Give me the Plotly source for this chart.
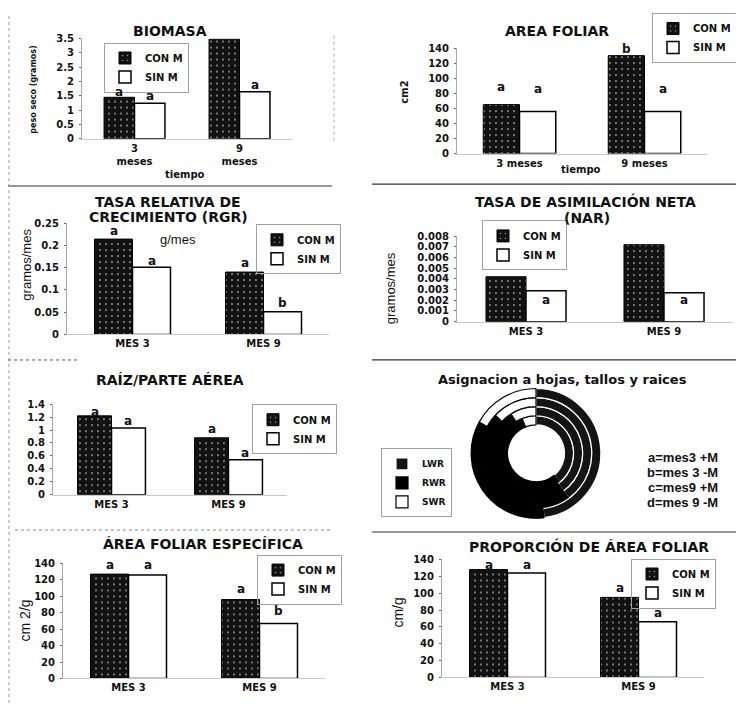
import plotly.graph_objects as go

# page body has an 8px default margin: figure is shrunk and all pixel
# positions below are given in window coordinates, then shifted.
WIN_W, WIN_H = 744, 709
OFF = 8
W, H = WIN_W - OFF, WIN_H - OFF

# ---------------- data ----------------
series_names = ["CON M", "SIN M"]
cats_biomasa = ["3<br>meses", "9<br>meses"]
cats_area = ["3 meses", "9 meses"]
cats_mes = ["MES 3", "MES 9"]

biomasa_con = [1.45, 3.48]
biomasa_sin = [1.24, 1.64]
biomasa_letters_con = [("a", 1.65), ("b", 3.62)]
biomasa_letters_sin = [("a", 1.49), ("a", 1.89)]

area_con = [65, 130]
area_sin = [56, 56]
area_letters_con = [("a", 88), ("b", 139)]
area_letters_sin = [("a", 86), ("a", 86)]

rgr_con = [0.214, 0.140]
rgr_sin = [0.151, 0.051]
rgr_letters_con = [("a", 0.232), ("a", 0.160)]
rgr_letters_sin = [("a", 0.164), ("b", 0.071)]

nar_con = [0.0042, 0.0072]
nar_sin = [0.0029, 0.0027]
nar_letters_sin = [("a", 0.0020), ("a", 0.0020)]

raiz_con = [1.22, 0.88]
raiz_sin = [1.03, 0.54]
raiz_letters_con = [("a", 1.28), ("a", 1.02)]
raiz_letters_sin = [("a", 1.14), ("a", 0.65)]

afe_con = [127, 96]
afe_sin = [126, 67]
afe_letters_con = [("a", 138), ("a", 109)]
afe_letters_sin = [("a", 138), ("b", 82)]

paf_con = [128, 95]
paf_sin = [124, 66]
paf_letters_con = [("a", 134), ("a", 106)]
paf_letters_sin = [("a", 134), ("a", 77)]

asig_labels = ["LWR", "RWR", "SWR"]
ring_names = ["a", "b", "c", "d"]          # inner -> outer
ring_a = [39, 55, 6]
ring_b = [40, 51, 9]
ring_c = [40, 47, 13]
ring_d = [48, 35, 17]
ring_keys = ["a=mes3 +M", "b=mes 3 -M", "c=mes9 +M", "d=mes 9 -M"]

# ---------------- helpers ----------------
def fx(p):
    return (p - OFF) / W

def fy(p):
    return 1 - (p - OFF) / H

FONT = "DejaVu Sans, Verdana, sans-serif"
FONT_N = "Liberation Sans, Arial, sans-serif"
fig = go.Figure()
annotations = []
shapes = []

panels = [
    dict(cats=cats_biomasa, con=biomasa_con, sin=biomasa_sin,
         lc=biomasa_letters_con, ls=biomasa_letters_sin,
         box=(82, 292, 135, 33), ymax=3.5, dtick=0.5, legend=(104, 37)),
    dict(cats=cats_area, con=area_con, sin=area_sin,
         lc=area_letters_con, ls=area_letters_sin,
         box=(457, 707, 150, 42.7), ymax=140, dtick=20, legend=(652, 7)),
    dict(cats=cats_mes, con=rgr_con, sin=rgr_sin,
         lc=rgr_letters_con, ls=rgr_letters_sin,
         box=(67, 329, 334, 220.7), ymax=0.25, dtick=0.05, legend=(256, 222)),
    dict(cats=cats_mes, con=nar_con, sin=nar_sin,
         lc=[], ls=nar_letters_sin,
         box=(457, 733, 321, 234), ymax=0.008, dtick=0.001, legend=(482, 218)),
    dict(cats=cats_mes, con=raiz_con, sin=raiz_sin,
         lc=raiz_letters_con, ls=raiz_letters_sin,
         box=(53, 287, 497, 405), ymax=1.4, dtick=0.2, legend=(252, 405)),
    dict(cats=cats_mes, con=afe_con, sin=afe_sin,
         lc=afe_letters_con, ls=afe_letters_sin,
         box=(63, 325, 684, 567), ymax=140, dtick=20, legend=(257, 558)),
    dict(cats=cats_mes, con=paf_con, sin=paf_sin,
         lc=paf_letters_con, ls=paf_letters_sin,
         box=(442, 704, 683, 563), ymax=140, dtick=20, legend=(631, 562)),
]

BARGAP = 0.42
off = (1 - BARGAP) / 4
layout_axes = {}
legends = {}
for i, p in enumerate(panels, start=1):
    sfx = "" if i == 1 else str(i)
    xa, ya = "x" + sfx, "y" + sfx
    lg = "legend" + sfx
    x0, x1, yz, yt = p["box"]
    fig.add_trace(go.Bar(
        x=[0, 1], y=p["con"], name=series_names[0], xaxis=xa, yaxis=ya, legend=lg,
        marker=dict(color="#121212", line=dict(color="#000000", width=1),
                    pattern=dict(shape=".", fgcolor="#9a9a9a", bgcolor="#121212",
                                 size=6, solidity=0.08, fillmode="replace"))))
    fig.add_trace(go.Bar(
        x=[0, 1], y=p["sin"], name=series_names[1], xaxis=xa, yaxis=ya, legend=lg,
        marker=dict(color="#ffffff", line=dict(color="#000000", width=1.5))))
    layout_axes["xaxis" + sfx] = dict(
        domain=[fx(x0), fx(x1)], anchor=ya, range=[-0.5, 1.5],
        tickvals=[0, 1], ticktext=p["cats"], showgrid=False, zeroline=False,
        showline=True, linecolor="#c8c8c8", linewidth=1, ticks="",
        tickfont=dict(family=FONT, size=10, color="#111", weight="bold"),
        fixedrange=True)
    layout_axes["yaxis" + sfx] = dict(
        domain=[fy(yz), fy(yt)], anchor=xa, range=[0, p["ymax"]],
        dtick=p["dtick"], tick0=0, showgrid=False, zeroline=False,
        showline=True, linecolor="#a8a8a8", linewidth=1, ticks="outside",
        ticklen=2, tickcolor="#666", ticklabelstandoff=3,
        tickfont=dict(family=FONT, size=10, color="#111", weight="bold"),
        fixedrange=True)
    lx, ly = p["legend"]
    legends[lg] = dict(
        x=fx(lx), y=fy(ly), xanchor="left", yanchor="top",
        bgcolor="rgba(255,255,255,0)", bordercolor="#a0a0a0", borderwidth=1,
        font=dict(family=FONT, size=10, color="#111", weight="bold"),
        itemwidth=30, tracegroupgap=0, traceorder="normal")
    for k, (t, yv) in enumerate(p["lc"]):
        annotations.append(dict(x=k - off, y=yv, xref=xa, yref=ya, text=t,
                                showarrow=False, yanchor="middle",
                                font=dict(family=FONT, size=12, color="#111", weight="bold")))
    for k, (t, yv) in enumerate(p["ls"]):
        annotations.append(dict(x=k + off, y=yv, xref=xa, yref=ya, text=t,
                                showarrow=False, yanchor="middle",
                                font=dict(family=FONT, size=12, color="#111", weight="bold")))

# ---------------- donut (concentric pies) ----------------
cx, cy = 536, 455
R_out, R_in = 66, 29
ring_vals = [ring_a, ring_b, ring_c, ring_d]
th = (R_out - R_in) / 4
for j, vals in enumerate(ring_vals):
    r_o = R_in + th * (j + 1)
    r_i = R_in + th * j
    fig.add_trace(go.Pie(
        labels=asig_labels, values=vals, sort=False, direction="clockwise",
        hole=r_i / r_o, textinfo="none", hoverinfo="label+value",
        domain=dict(x=[fx(cx - r_o), fx(cx + r_o)], y=[fy(cy + r_o), fy(cy - r_o)]),
        marker=dict(colors=["#141414", "#000000", "#ffffff"],
                    line=dict(color=["#ffffff", "#000000", "#000000"], width=1.2)),
        legend="legend8", showlegend=(j == 0), name=ring_names[j]))
legends["legend8"] = dict(
    x=fx(381), y=fy(450), xanchor="left", yanchor="top",
    bgcolor="rgba(255,255,255,0)", bordercolor="#a0a0a0", borderwidth=1,
    font=dict(family=FONT, size=9, color="#111", weight="bold"),
    itemwidth=30, traceorder="normal")

# ---------------- text annotations ----------------
def txt(x, y, s, size=14, bold=True, angle=0, xanchor="center", family=FONT):
    annotations.append(dict(x=fx(x), y=fy(y), xref="paper", yref="paper", text=s,
                            showarrow=False, textangle=angle, xanchor=xanchor,
                            yanchor="middle",
                            font=dict(family=family, size=size, color="#111",
                                      weight="bold" if bold else "normal")))

txt(170, 25, "BIOMASA", 14)
txt(557, 25, "AREA FOLIAR", 14)
txt(168, 199, "TASA RELATIVA DE", 14)
txt(168, 215, "CRECIMIENTO (RGR)", 14)
txt(585, 199, "TASA DE ASIMILACIÓN NETA", 14)
txt(587, 216, "(NAR)", 14)
txt(170, 380, "RAÍZ/PARTE AÉREA", 14)
txt(562, 380, "Asignacion a hojas, tallos y raices", 13)
txt(203, 547, "ÁREA FOLIAR ESPECÍFICA", 14)
txt(589, 550, "PROPORCIÓN DE ÁREA FOLIAR", 14)

txt(185, 171, "tiempo", 10)
txt(581, 166, "tiempo", 10)
txt(178, 237, "g/mes", 13, bold=False, family=FONT_N)

txt(34, 85, "peso seco (gramos)", 8, angle=-90)
txt(405, 88, "cm2", 10, angle=-90)
txt(27, 263, "gramos/mes", 13, bold=False, angle=-90, family=FONT_N)
txt(390, 287, "gramos/mes", 13, bold=False, angle=-90, family=FONT_N)
txt(25, 625, "cm 2/g", 14, bold=False, angle=-90, family=FONT_N)
txt(398, 617, "cm/g", 14, bold=False, angle=-90, family=FONT_N)

for k, s in enumerate(ring_keys):
    txt(720, 459 + 15.5 * k, s, 13, bold=True, xanchor="right", family=FONT_N)

# ---------------- scan frame lines ----------------
def line(x0, y0, x1, y1, color="#555", width=1, dash="solid"):
    shapes.append(dict(type="line", xref="paper", yref="paper",
                       x0=fx(x0), y0=fy(y0), x1=fx(x1), y1=fy(y1),
                       line=dict(color=color, width=width, dash=dash)))

line(8, 183, 332, 183, "#333", 1.2)
line(372, 181, 744, 181, "#333", 1.2)
line(8, 360, 80, 360, "#555", 1, "dot")
line(372, 360, 744, 360, "#333", 1.2)
line(15, 533, 332, 533, "#888", 1, "dot")
line(372, 535, 744, 535, "#333", 1.2)
line(9, 10, 9, 709, "#999", 1, "dot")
line(334, 30, 334, 140, "#aaa", 1, "dot")

fig.update_layout(
    width=W, height=H, margin=dict(l=0, r=0, t=0, b=0),
    paper_bgcolor="white", plot_bgcolor="rgba(0,0,0,0)",
    barmode="group", bargap=BARGAP, bargroupgap=0,
    font=dict(family=FONT, color="#111"),
    annotations=annotations, shapes=shapes,
    **layout_axes, **legends,
)

fig.write_html("out.html")
